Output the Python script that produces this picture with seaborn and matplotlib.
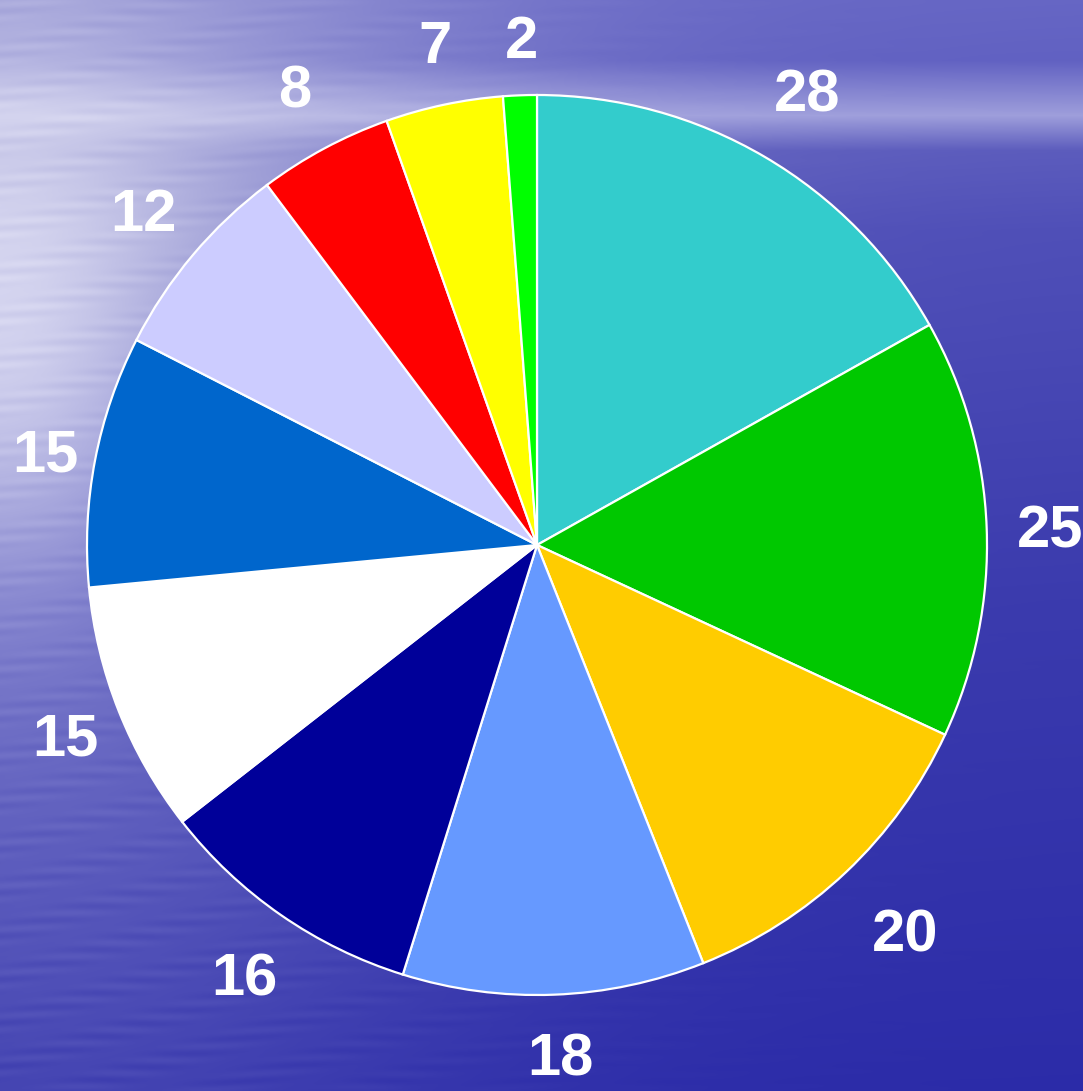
import numpy as np
import matplotlib
matplotlib.use("Agg")
import matplotlib.pyplot as plt
import seaborn as sns

values = [28, 25, 20, 18, 16, 15, 15, 12, 8, 7, 2]
labels = ["28", "25", "20", "18", "16", "15", "15", "12", "8", "7", "2"]
colors = ["#33CCCC", "#00C800", "#FFCC00", "#6699FF", "#000099", "#FFFFFF",
          "#0066CC", "#CCCCFF", "#FF0000", "#FFFF00", "#00FF00"]

sns.set_theme(style="white")
plt.rcParams['font.family'] = ['Liberation Sans', 'DejaVu Sans']

W, H = 1083, 1091
fig = plt.figure(figsize=(W / 100, H / 100), dpi=100)

# ---- background: blue water-like gradient ----
bg = fig.add_axes([0, 0, 1, 1])
yy, xx = np.mgrid[0:H, 0:W].astype(float)
ys = [0, 60, 115, 150, 230, 600, 1091]
right_r = [0.40, 0.38, 0.62, 0.36, 0.31, 0.23, 0.17]
right_b = [0.77, 0.76, 0.86, 0.74, 0.72, 0.68, 0.66]
left_r = [0.64, 0.66, 0.80, 0.72, 0.72, 0.47, 0.27]
left_b = [0.85, 0.86, 0.92, 0.88, 0.88, 0.79, 0.70]
yc = yy[:, 0]
rr = np.interp(yc, ys, right_r)[:, None]
rb = np.interp(yc, ys, right_b)[:, None]
lr = np.interp(yc, ys, left_r)[:, None]
lb = np.interp(yc, ys, left_b)[:, None]
wx = np.exp(-(xx / 460.0) ** 2)
R = rr + (lr - rr) * wx
B = rb + (lb - rb) * wx
glow = 0.70 * np.exp(-(xx / 150.0) ** 2 - ((yy - 320) / 230.0) ** 2)
R = R + (0.90 - R) * glow
B = B + (0.97 - B) * glow
streak = (0.025 * np.sin(yy / 2.3 + 0.7 * np.sin(xx / 41.0))
          * (0.5 + 0.5 * np.sin(xx / 23.0 + yy / 7.0))
          * np.exp(-(xx / 520.0) ** 2))
R = R + streak
B = B + streak * 0.5
img = np.dstack([R, R, B])
bg.imshow(np.clip(img, 0, 1), aspect="auto", extent=[0, W, H, 0],
          interpolation="bilinear")
bg.axis("off")

# ---- pie ----
ax = fig.add_axes([0, 0, 1, 1])
cx, cy, rad = 537, 545, 450
wedges, _ = ax.pie(values, colors=colors, startangle=90, counterclock=False,
                   radius=1.0,
                   wedgeprops=dict(edgecolor="white", linewidth=1.6))
digit_h = 43.0 / rad
for w, lab in zip(wedges, labels):
    ang = np.deg2rad((w.theta1 + w.theta2) / 2.0)
    dist = (508.0 + 22.0 * abs(np.sin(2 * ang))
            - 12.0 * max(0.0, -np.cos(ang))) / rad
    x = dist * np.cos(ang) + 4.0 / rad
    y = dist * np.sin(ang)
    ax.text(x, y - digit_h / 2, lab, color="white", fontsize=43,
            fontweight="bold", ha="center", va="baseline")
ax.set_aspect("auto")
ax.set_xlim(-cx / rad, (W - cx) / rad)
ax.set_ylim(-(H - cy) / rad, cy / rad)
ax.axis("off")
ax.patch.set_alpha(0)

fig.savefig("out.png", dpi=100)
